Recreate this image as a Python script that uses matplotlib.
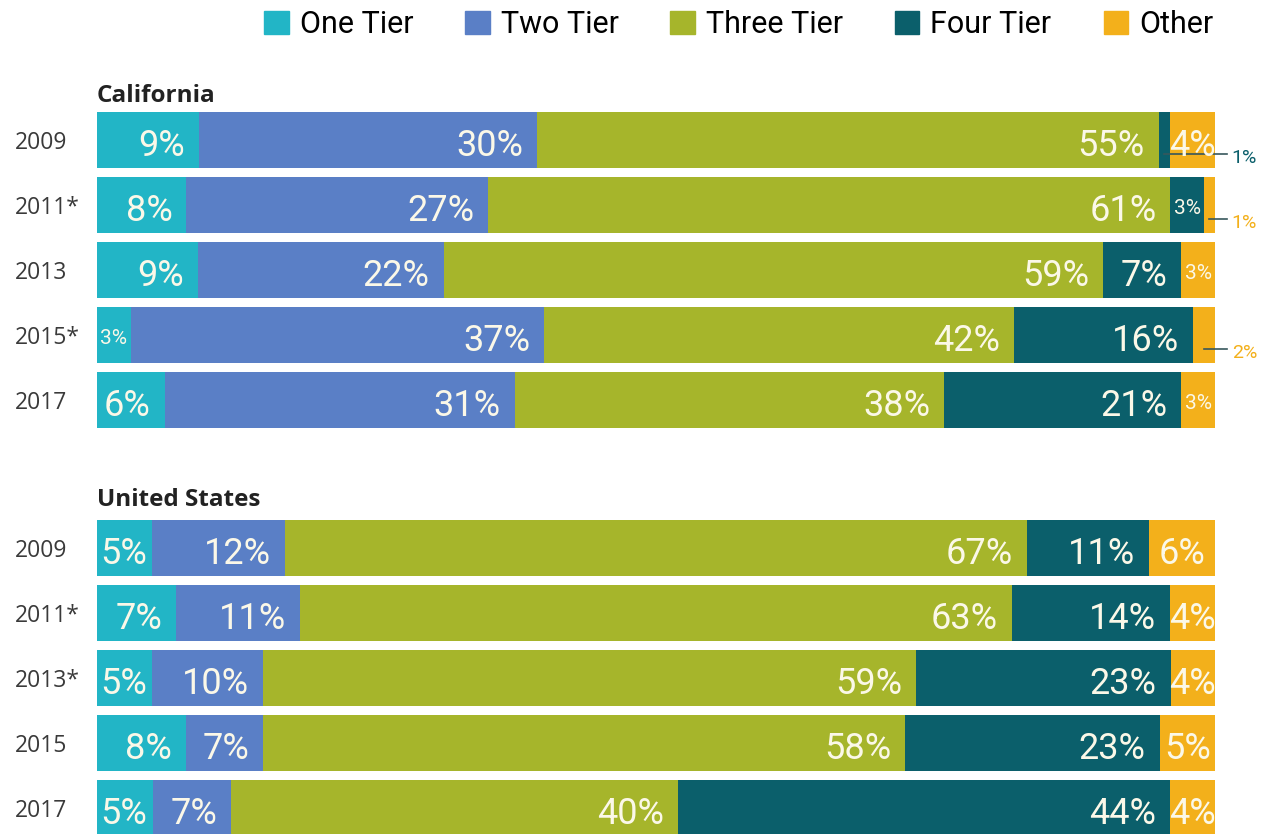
import numpy as np
import matplotlib
matplotlib.use("Agg")
import matplotlib.pyplot as plt
from matplotlib.patches import Patch

tiers = ['One Tier', 'Two Tier', 'Three Tier', 'Four Tier', 'Other']
colors = ['#22b5c6', '#5a7fc6', '#a6b52b', '#0b5f6b', '#f3b01b']

ca_years = ['2009', '2011*', '2013', '2015*', '2017']
ca_vals = [[9, 30, 55, 1, 4],
           [8, 27, 61, 3, 1],
           [9, 22, 59, 7, 3],
           [3, 37, 42, 16, 2],
           [6, 31, 38, 21, 3]]

us_years = ['2009', '2011*', '2013*', '2015', '2017']
us_vals = [[5, 12, 67, 11, 6],
           [7, 11, 63, 14, 4],
           [5, 10, 59, 23, 4],
           [8, 7, 58, 23, 5],
           [5, 7, 40, 44, 4]]

narrow = ['Roboto', 'DejaVu Sans']
W, H = 1266, 834
fig = plt.figure(figsize=(W / 100, H / 100), dpi=100)
right_labels = []  # (axes, annotation, segment left) to check after layout


def panel(top_px, title, years, vals, title_y):
    row = 65
    ax = fig.add_axes([97 / W, 1 - (top_px + 5 * row) / H, 1118 / W, 5 * row / H])
    ax.set_xlim(0, 1)
    ax.set_ylim(4.5, -0.5)
    for i, v in enumerate(vals):
        v = np.array(v, dtype=float)
        frac = v / v.sum()
        left = 0
        for j, f in enumerate(frac):
            ax.barh(i, f, left=left, height=0.86, color=colors[j], linewidth=0)
            lab = '%d%%' % v[j]
            if v[j] <= 2:
                # small share: leader line to a label outside the bar
                ax.plot([left + f / 2, 1.0105], [i + 0.22, i + 0.22], color='#37575c',
                        lw=1.2, clip_on=False)
                ax.text(1.015, i + 0.27, lab, color=colors[j], fontsize=14,
                        family=narrow, ha='left', va='center', clip_on=False)
            elif v[j] <= 3 or j == 4:
                fs = 15 if v[j] <= 3 else 26
                ax.text(left + f / 2, i + 0.03, lab, ha='center', va='center_baseline',
                        color='#fbf8e8', fontsize=fs, family=narrow, clip_on=True)
            else:
                t = ax.annotate(lab, (left + f, i + 0.03), xytext=(-10, 0),
                                textcoords='offset points', ha='right', va='center_baseline',
                                color='#fbf8e8', fontsize=26, family=narrow)
                right_labels.append((ax, t, left, i))
            left += f
    ax.set_yticks(range(5))
    ax.set_yticklabels(years, ha='left', fontsize=16.5, color='#3a3a3a', family='Open Sans')
    ax.tick_params(axis='y', length=0, pad=59)
    ax.tick_params(axis='x', bottom=False, labelbottom=False)
    for s in ax.spines.values():
        s.set_visible(False)
    ax.text(0, title_y, title, transform=ax.transData, ha='left', va='baseline',
            fontsize=17.5, fontweight='bold', color='#222222', family='Open Sans')
    return ax


panel(107.5, 'California', ca_years, ca_vals, -0.585)
panel(515.5, 'United States', us_years, us_vals, -0.64)

handles = [Patch(color=c) for c in colors]
fig.legend(handles, tiers, loc='upper right', bbox_to_anchor=(1230 / W, 1.008), ncol=5,
           frameon=False, prop={'family': narrow, 'size': 22}, handlelength=0.8,
           handleheight=0.8, handletextpad=0.36, columnspacing=1.7, borderaxespad=0.15)

# labels wider than their segment start at the segment's left edge instead
fig.canvas.draw()
r = fig.canvas.get_renderer()
for ax, t, left, i in right_labels:
    x_left = ax.transData.transform((left, i))[0]
    if t.get_window_extent(r).x0 < x_left + 2:
        t.xy = (left, i + 0.03)
        t.set_position((2, 0))
        t.set_ha('left')

fig.savefig('out.png', dpi=100, facecolor='white')
